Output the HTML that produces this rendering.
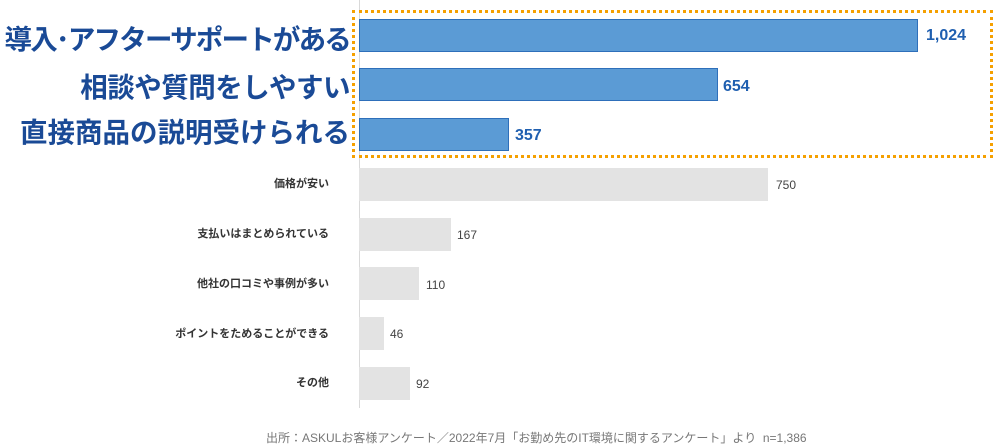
<!DOCTYPE html>
<html><head><meta charset="utf-8"><style>
body{margin:0;width:1000px;height:448px;background:#fff;position:relative;overflow:hidden;font-family:"Liberation Sans","Noto Sans CJK JP",sans-serif}
.a{position:absolute}
.big{right:650px;font-size:27.5px;font-weight:bold;color:#1a4a96;white-space:nowrap;line-height:32px}
.bb{background:#5b9bd5;border:1px solid #2e6fba;box-sizing:border-box;left:359px;height:33px}
.bv{font-size:16px;color:#1f5fb0;font-weight:bold;line-height:20px}
.gb{background:#e3e3e3;left:359px;height:33px}
.sl{right:671px;font-size:11px;font-weight:bold;color:#333;white-space:nowrap;line-height:14px}
.gv{font-size:12px;color:#444;line-height:14px}
</style></head><body>
<div class="a" style="left:359px;top:0;width:1px;height:408px;background:#d9d9d9"></div>
<div class="a" style="left:352px;top:10px;width:641px;height:148px;border:3px dotted #f5a000;box-sizing:border-box"></div>
<div class="a big" style="top:24px;letter-spacing:-1.8px">導入･アフターサポートがある</div>
<div class="a big" style="top:72px;letter-spacing:-0.5px">相談や質問をしやすい</div>
<div class="a big" style="top:117px">直接商品の説明受けられる</div>
<div class="a bb" style="top:19px;width:559px"></div>
<div class="a bb" style="top:68px;width:359px"></div>
<div class="a bb" style="top:118px;width:150px"></div>
<div class="a bv" style="left:926px;top:26px">1,024</div>
<div class="a bv" style="left:723px;top:77px">654</div>
<div class="a bv" style="left:515px;top:126px">357</div>
<div class="a gb" style="top:168px;width:409px"></div>
<div class="a gb" style="top:218px;width:92px"></div>
<div class="a gb" style="top:267px;width:60px"></div>
<div class="a gb" style="top:317px;width:25px"></div>
<div class="a gb" style="top:367px;width:51px"></div>
<div class="a sl" style="top:177px">価格が安い</div>
<div class="a sl" style="top:227px">支払いはまとめられている</div>
<div class="a sl" style="top:277px">他社の口コミや事例が多い</div>
<div class="a sl" style="top:327px">ポイントをためることができる</div>
<div class="a sl" style="top:376px">その他</div>
<div class="a gv" style="left:776px;top:178px">750</div>
<div class="a gv" style="left:457px;top:228px">167</div>
<div class="a gv" style="left:426px;top:278px">110</div>
<div class="a gv" style="left:390px;top:327px">46</div>
<div class="a gv" style="left:416px;top:377px">92</div>
<div class="a" style="left:266px;top:429px;font-size:12px;color:#777;white-space:nowrap">出所：ASKULお客様アンケート／2022年7月「お勤め先のIT環境に関するアンケート」より&nbsp; n=1,386</div>
</body></html>
